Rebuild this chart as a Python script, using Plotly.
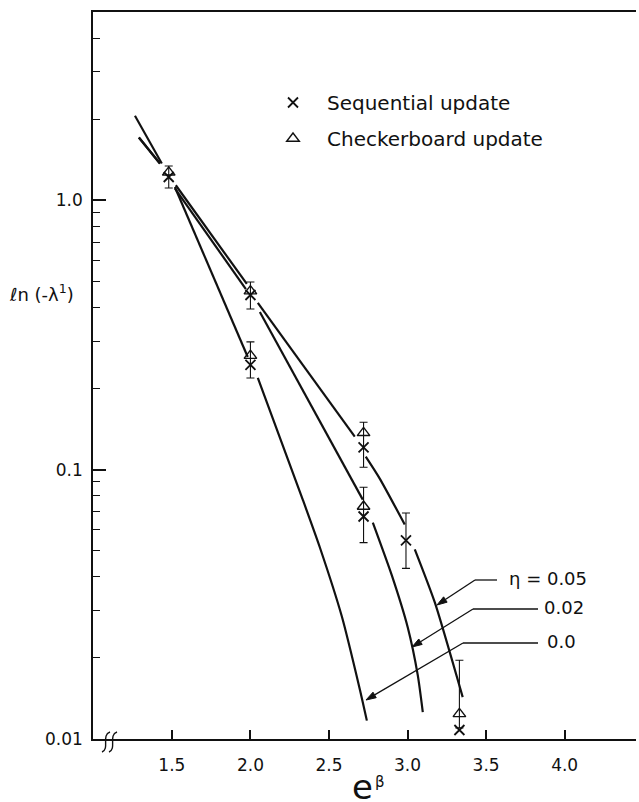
import math
import plotly.graph_objects as go

# ---------------- data ----------------
seq_x = [1.48, 2.0, 2.0, 2.72, 2.72, 2.99, 3.33]
seq_y = [1.22, 0.445, 0.245, 0.121, 0.067, 0.0546, 0.0108]

chk_x = [1.48, 2.0, 2.0, 2.72, 2.72, 3.33]
chk_y = [1.27, 0.46, 0.265, 0.137, 0.073, 0.0124]

eb_x = [1.48, 2.0, 2.0, 2.72, 2.72, 2.99, 3.33]
eb_lo = [1.11, 0.395, 0.219, 0.102, 0.0536, 0.043, 0.0110]
eb_hi = [1.34, 0.497, 0.298, 0.150, 0.086, 0.069, 0.0196]

eta0_x = [1.265, 1.436, None, 1.519, 1.983, None,
          2.047, 2.333, 2.442, 2.581, 2.696, 2.741]
eta0_y = [2.06, 1.37, None, 1.12, 0.262, None,
          0.219, 0.0774, 0.0514, 0.0286, 0.0153, 0.0117]

eta02_x = [1.290, 1.424, None, 1.519, 1.971, None, 2.060, 2.715, None,
           2.779, 2.900, 3.001, 3.065, 3.097]
eta02_y = [1.71, 1.37, None, 1.108, 0.468, None, 0.385, 0.0774, None,
           0.0636, 0.0405, 0.0260, 0.01726, 0.01259]

eta05_x = [1.290, 1.424, None, 1.525, 1.977, None, 2.047, 2.664, None,
           2.734, 2.823, 2.982, None, 3.046, 3.173, 3.351]
eta05_y = [1.71, 1.37, None, 1.137, 0.489, None, 0.416, 0.1325, None,
           0.1117, 0.0926, 0.0626, None, 0.0506, 0.0322, 0.0143]

x_ticks = [1.5, 2.0, 2.5, 3.0, 3.5, 4.0]
x_ticktext = ["1.5", "2.0", "2.5", "3.0", "3.5", "4.0"]
y_ticks = [0.01, 0.1, 1.0]
y_ticktext = ["0.01", "0.1", "1.0"]
y_minor = [0.02, 0.03, 0.04, 0.05, 0.06, 0.07, 0.08, 0.09,
           0.2, 0.3, 0.4, 0.5, 0.6, 0.7, 0.8, 0.9, 2, 3, 4]

curve_labels = ["\u03b7 = 0.05", "0.02", "0.0"]

# ---------------- layout geometry ----------------
W, H = 639, 802
ML, MR, MT, MB = 93, 3, 12, 63
PW, PH = W - ML - MR, H - MT - MB


def px(xp):
    return (xp - ML) / PW


def py(yp):
    return (H - MB - yp) / PH


FONT = "DejaVu Sans"
BLACK = "#111111"

fig = go.Figure()

# curves
for cx, cy in [(eta0_x, eta0_y), (eta02_x, eta02_y), (eta05_x, eta05_y)]:
    fig.add_trace(go.Scatter(
        x=cx, y=cy, mode="lines", showlegend=False, hoverinfo="skip",
        line=dict(color=BLACK, width=2.2, shape="spline", smoothing=0.6),
    ))

# error bars
eb_c = [math.sqrt(a * b) for a, b in zip(eb_lo, eb_hi)]
fig.add_trace(go.Scatter(
    x=eb_x, y=eb_c, mode="markers", showlegend=False, hoverinfo="skip",
    marker=dict(size=1, opacity=0),
    error_y=dict(type="data", symmetric=False,
                 array=[h - c for h, c in zip(eb_hi, eb_c)],
                 arrayminus=[c - l for l, c in zip(eb_lo, eb_c)],
                 color=BLACK, thickness=1.1, width=4),
))

# data markers
fig.add_trace(go.Scatter(
    x=seq_x, y=seq_y, mode="markers", name="Sequential update",
    legendgroup="a",
    marker=dict(symbol="x-thin-open", size=10, color=BLACK,
                line=dict(color=BLACK, width=1.8)),
))
fig.add_trace(go.Scatter(
    x=chk_x, y=chk_y, mode="markers", name="Checkerboard update",
    legendgroup="b",
    marker=dict(symbol="triangle-up-open", size=11, color=BLACK,
                line=dict(color=BLACK, width=1.4)),
))

shapes = []
annotations = []

# eta labels with elbow leader arrows (pixel geometry)
leaders = [
    # tip, elbow, line end, text x, anchor
    ((437, 605), (475, 580), 497, 589, "right"),
    ((412, 647), (473, 609), 538, 542, "left"),
    ((366, 700), (463, 643), 538, 545, "left"),
]
for lab, (tip, elb, lend, tx, anc) in zip(curve_labels, leaders):
    shapes.append(dict(type="line", xref="paper", yref="paper",
                       x0=px(elb[0]), y0=py(elb[1]), x1=px(lend), y1=py(elb[1]),
                       line=dict(color=BLACK, width=1.3)))
    dx, dy = tip[0] - elb[0], tip[1] - elb[1]
    L = math.hypot(dx, dy)
    ux, uy = dx / L, dy / L
    bx, by = tip[0] - 10 * ux, tip[1] - 10 * uy
    nx, ny = -uy, ux
    shapes.append(dict(type="line", xref="paper", yref="paper",
                       x0=px(elb[0]), y0=py(elb[1]), x1=px(bx), y1=py(by),
                       line=dict(color=BLACK, width=1.3)))
    tri = "M {},{} L {},{} L {},{} Z".format(
        px(tip[0]), py(tip[1]),
        px(bx + 3.2 * nx), py(by + 3.2 * ny),
        px(bx - 3.2 * nx), py(by - 3.2 * ny))
    shapes.append(dict(type="path", xref="paper", yref="paper", path=tri,
                       fillcolor=BLACK, line=dict(color=BLACK, width=1)))
    annotations.append(dict(xref="paper", yref="paper", x=px(tx), y=py(elb[1] - 2),
                            xanchor=anc, yanchor="middle", text=lab,
                            showarrow=False,
                            font=dict(family=FONT, size=18, color=BLACK)))

# axis titles
annotations.append(dict(xref="paper", yref="paper", x=px(7), y=py(293),
                        xanchor="left", yanchor="middle",
                        text="\u2113n (-\u03bb<sup>1</sup>)", showarrow=False,
                        font=dict(family=FONT, size=18, color=BLACK)))
annotations.append(dict(xref="paper", yref="paper", x=px(362), y=py(787),
                        xanchor="center", yanchor="middle", text="e",
                        showarrow=False,
                        font=dict(family=FONT, size=34, color=BLACK)))
annotations.append(dict(xref="paper", yref="paper", x=px(380), y=py(782),
                        xanchor="center", yanchor="middle", text="\u03b2",
                        showarrow=False,
                        font=dict(family=FONT, size=15, color=BLACK)))

# axis break mark
for x0 in (102, 109):
    p = "M {a},{b} C {c},{d} {e},{f} {g},{h}".format(
        a=px(x0), b=py(752), c=px(x0 + 8), d=py(749),
        e=px(x0 - 1), f=py(735), g=px(x0 + 8), h=py(732))
    shapes.append(dict(type="path", xref="paper", yref="paper", path=p,
                       line=dict(color=BLACK, width=1.4)))

fig.update_layout(
    width=W, height=H,
    margin=dict(l=ML, r=MR, t=MT, b=MB, pad=0),
    paper_bgcolor="white", plot_bgcolor="white",
    font=dict(family=FONT, color=BLACK),
    shapes=shapes, annotations=annotations,
    showlegend=True,
    legend=dict(x=px(259), y=py(83), xanchor="left", yanchor="top",
                bgcolor="rgba(0,0,0,0)", borderwidth=0,
                font=dict(family=FONT, size=20, color=BLACK),
                itemwidth=58, tracegroupgap=7, traceorder="grouped"),
    xaxis=dict(
        range=[0.998, 4.454], showgrid=False, zeroline=False,
        showline=True, linecolor=BLACK, linewidth=1.5, mirror=True,
        ticks="inside", ticklen=9, tickwidth=1.5, tickcolor=BLACK,
        tickvals=x_ticks, ticktext=x_ticktext, ticklabelstandoff=10,
        tickfont=dict(family=FONT, size=17, color=BLACK),
    ),
    yaxis=dict(
        type="log", range=[-2, math.log10(5)], showgrid=False, zeroline=False,
        showline=True, linecolor=BLACK, linewidth=1.5,
        ticks="inside", ticklen=13, tickwidth=1.5, tickcolor=BLACK,
        tickvals=y_ticks, ticktext=y_ticktext, ticklabelstandoff=5,
        tickfont=dict(family=FONT, size=17, color=BLACK),
        minor=dict(ticks="inside", ticklen=7, tickwidth=1.3, tickcolor=BLACK,
                   tickvals=y_minor, showgrid=False),
    ),
)

fig.write_html("out.html")
